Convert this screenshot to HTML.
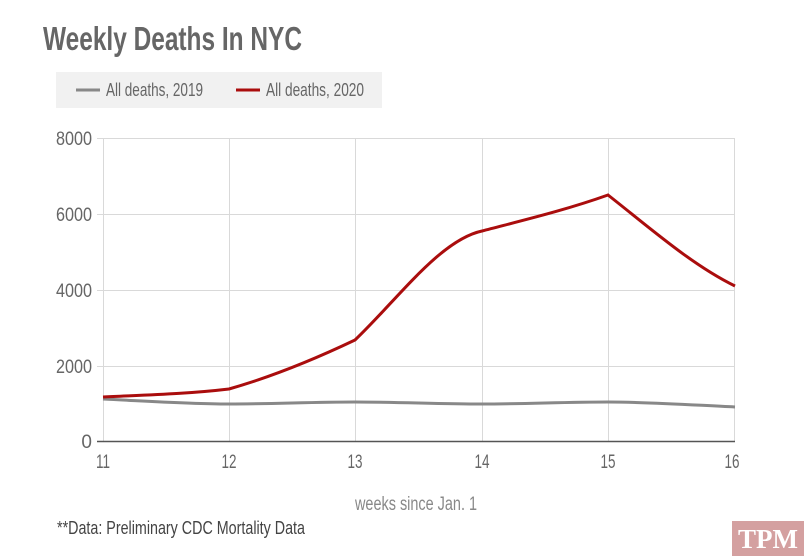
<!DOCTYPE html>
<html><head><meta charset="utf-8"><style>
body{margin:0;background:#fff;}
svg{display:block;font-family:"Liberation Sans Narrow","Liberation Sans",sans-serif;}
</style></head><body>
<svg width="804" height="556" viewBox="0 0 804 556" xmlns="http://www.w3.org/2000/svg">
<text x="43" y="50" font-size="33" font-weight="bold" fill="#666" textLength="259" lengthAdjust="spacingAndGlyphs">Weekly Deaths In NYC</text>
<rect x="56" y="72" width="326" height="36" fill="#f1f1f1"/>
<line x1="76" y1="90" x2="100" y2="90" stroke="#888" stroke-width="3"/>
<text x="106" y="96" font-size="18" fill="#666" textLength="97" lengthAdjust="spacingAndGlyphs">All deaths, 2019</text>
<line x1="236" y1="90" x2="260" y2="90" stroke="#aa0d0d" stroke-width="3"/>
<text x="266" y="96" font-size="18" fill="#666" textLength="98" lengthAdjust="spacingAndGlyphs">All deaths, 2020</text>
<g stroke="#d9d9d9" stroke-width="1">
<line x1="103" y1="138.5" x2="735" y2="138.5"/>
<line x1="103" y1="214.5" x2="735" y2="214.5"/>
<line x1="103" y1="290.5" x2="735" y2="290.5"/>
<line x1="103" y1="366.5" x2="735" y2="366.5"/>
<line x1="97" y1="138.5" x2="103" y2="138.5"/>
<line x1="97" y1="214.5" x2="103" y2="214.5"/>
<line x1="97" y1="290.5" x2="103" y2="290.5"/>
<line x1="97" y1="366.5" x2="103" y2="366.5"/>
<line x1="103.5" y1="138" x2="103.5" y2="441"/>
<line x1="229.5" y1="138" x2="229.5" y2="441"/>
<line x1="355.5" y1="138" x2="355.5" y2="441"/>
<line x1="482.5" y1="138" x2="482.5" y2="441"/>
<line x1="608.5" y1="138" x2="608.5" y2="441"/>
<line x1="734.5" y1="138" x2="734.5" y2="441"/>
</g>
<line x1="97" y1="441.5" x2="735" y2="441.5" stroke="#555" stroke-width="1.5"/>
<g font-size="19" fill="#666" text-anchor="end">
<text x="92" y="145" textLength="36" lengthAdjust="spacingAndGlyphs">8000</text>
<text x="92" y="221" textLength="36" lengthAdjust="spacingAndGlyphs">6000</text>
<text x="92" y="297" textLength="36" lengthAdjust="spacingAndGlyphs">4000</text>
<text x="92" y="373" textLength="36" lengthAdjust="spacingAndGlyphs">2000</text>
<text x="92" y="448">0</text>
</g>
<g font-size="19" fill="#666" text-anchor="middle">
<text x="103" y="468" textLength="14" lengthAdjust="spacingAndGlyphs">11</text>
<text x="229" y="468" textLength="15" lengthAdjust="spacingAndGlyphs">12</text>
<text x="355" y="468" textLength="15" lengthAdjust="spacingAndGlyphs">13</text>
<text x="482" y="468" textLength="15" lengthAdjust="spacingAndGlyphs">14</text>
<text x="608" y="468" textLength="15" lengthAdjust="spacingAndGlyphs">15</text>
<text x="732" y="468" textLength="15" lengthAdjust="spacingAndGlyphs">16</text>
<text x="416" y="510" fill="#888" textLength="122" lengthAdjust="spacingAndGlyphs">weeks since Jan. 1</text>
</g>
<text x="57" y="534" font-size="18" fill="#444" textLength="248" lengthAdjust="spacingAndGlyphs">**Data: Preliminary CDC Mortality Data</text>
<path d="M103,399 C145,401 187,404 229,404 C271,404 313,402 355,402 C397,402 440,404 482,404 C524,404 566,402 608,402 C650,402 692,405 735,407" fill="none" stroke="#888" stroke-width="3"/>
<path d="M103,397 C145,395 187,394 229,389 C271,377 313,360 355,340 C397,300 440,240 482,231 C524,220 566,210 608,195 C650,228 692,265 735,286" fill="none" stroke="#aa0d0d" stroke-width="3"/>
<rect x="732" y="521" width="72" height="35" fill="#d4a0a0"/>
<text x="768" y="548" font-size="27" font-weight="bold" fill="#fff" text-anchor="middle" font-family="Liberation Serif,serif">TPM</text>
</svg>
</body></html>
